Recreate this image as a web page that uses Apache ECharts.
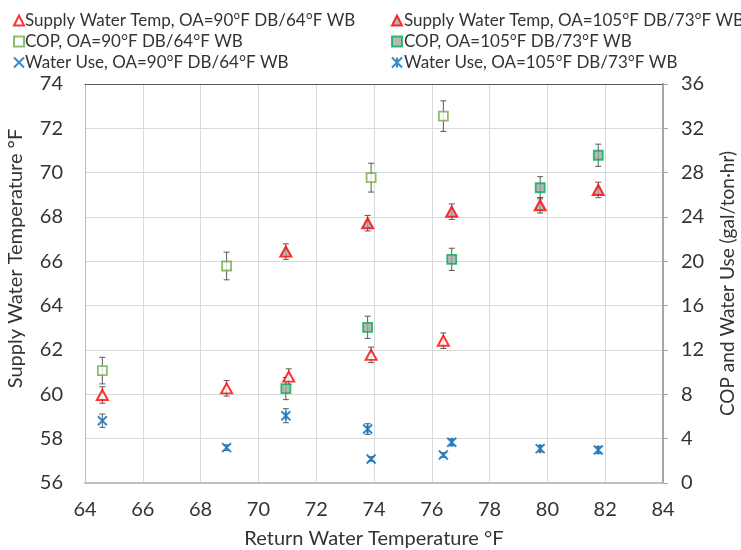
<!DOCTYPE html>
<html>
<head>
<meta charset="utf-8">
<script src="https://cdn.jsdelivr.net/npm/echarts@6/dist/echarts.min.js"></script>
<style>html,body{margin:0;padding:0;background:#fff}#c{width:741px;height:550px}</style>
</head>
<body>
<div id="c"></div>
<script>
// Return water temperature (°F), x values
const x90 = [64.6, 68.9, 71.05, 73.9, 76.4];
const x105 = [70.95, 73.78, 76.69, 79.75, 81.76];
// Supply water temperature (°F), left axis
const supply90 = [59.97, 60.27, 60.80, 61.78, 62.42];
const supply105 = [66.44, 67.72, 68.24, 68.53, 69.22];
const supplyErr90 = [0.37, 0.35, 0.35, 0.35, 0.35];
const supplyErr105 = [0.35, 0.35, 0.35, 0.35, 0.35];
// COP (right axis)
const cop90 = [10.14, 19.58, null, 27.55, 33.1];
const cop105 = [8.52, 14.05, 20.18, 26.64, 29.57];
const copErr90 = [1.2, 1.25, null, 1.3, 1.38];
const copErr105 = [1.0, 1.0, 1.0, 1.0, 1.0];
// Water use gal/ton·hr (right axis)
const water90 = [5.62, 3.19, null, 2.17, 2.53];
const water105 = [6.07, 4.87, 3.67, 3.10, 2.98];
const waterErr90 = [0.6, 0.25, null, 0.2, 0.2];
const waterErr105 = [0.63, 0.48, 0.3, 0.3, 0.3];

const names = {
  s90: 'Supply Water Temp, OA=90°F DB/64°F WB',
  s105: 'Supply Water Temp, OA=105°F DB/73°F WB',
  c90: 'COP, OA=90°F DB/64°F WB',
  c105: 'COP, OA=105°F DB/73°F WB',
  w90: 'Water Use, OA=90°F DB/64°F WB',
  w105: 'Water Use, OA=105°F DB/73°F WB'
};

const FONT = 'Lato';
const TXT = '#333333';

function pts(xs, ys) {
  const out = [];
  xs.forEach((x, i) => { if (ys[i] != null) out.push([x, ys[i]]); });
  return out;
}
function errPts(xs, ys, es) {
  const out = [];
  xs.forEach((x, i) => { if (ys[i] != null && es[i] != null) out.push([x, ys[i], es[i]]); });
  return out;
}
function errSeries(xs, ys, es, yIdx) {
  return {
    type: 'custom',
    yAxisIndex: yIdx,
    silent: true,
    z: 1,
    data: errPts(xs, ys, es),
    renderItem: function (params, api) {
      const x = api.value(0), y = api.value(1), e = api.value(2);
      const hi = api.coord([x, y + e]);
      const lo = api.coord([x, y - e]);
      const cw = 3;
      const st = { stroke: '#595959', lineWidth: 1 };
      return {
        type: 'group',
        children: [
          { type: 'line', shape: { x1: hi[0], y1: hi[1], x2: lo[0], y2: lo[1] }, style: st },
          { type: 'line', shape: { x1: hi[0] - cw, y1: hi[1], x2: hi[0] + cw, y2: hi[1] }, style: st },
          { type: 'line', shape: { x1: lo[0] - cw, y1: lo[1], x2: lo[0] + cw, y2: lo[1] }, style: st }
        ]
      };
    }
  };
}

const crossPath = 'path://M0,0L10,10M10,0L0,10';
const starPath = 'path://M0,0L10,10M10,0L0,10M5,0L5,10';

const chart = echarts.init(document.getElementById('c'));
chart.setOption({
  animation: false,
  textStyle: { fontFamily: FONT },
  grid: { left: 85, right: 78, top: 84, bottom: 67, containLabel: false, outerBoundsMode: 'none' },
  legend: [
    {
      orient: 'vertical', left: 8, top: 5, itemGap: 0,
      itemWidth: 10, itemHeight: 10,
      textStyle: { fontFamily: FONT, fontSize: 17, color: TXT, lineHeight: 21, padding: [0, 0, 0, -4] },
      data: [names.s90, names.c90, names.w90]
    },
    {
      orient: 'vertical', left: 386, top: 5, itemGap: 0,
      itemWidth: 10, itemHeight: 10,
      textStyle: { fontFamily: FONT, fontSize: 17, color: TXT, lineHeight: 21, padding: [0, 0, 0, -3] },
      data: [names.s105, names.c105, names.w105]
    }
  ],
  xAxis: [
    {
      type: 'value', min: 64, max: 84, interval: 2, position: 'bottom',
      name: 'Return Water Temperature °F', nameLocation: 'middle', nameGap: 46,
      nameTextStyle: { fontFamily: FONT, fontSize: 20, color: TXT },
      axisLine: { show: true, lineStyle: { color: '#bfbfbf', width: 2 } },
      axisTick: { show: false },
      axisLabel: { fontFamily: FONT, fontSize: 20, color: TXT, margin: 17 },
      splitLine: { show: true, lineStyle: { color: '#d9d9d9', width: 1 } }
    },
    {
      type: 'value', min: 64, max: 84, interval: 2, position: 'top',
      axisLine: { show: true, onZero: false, lineStyle: { color: '#595959', width: 1 } },
      axisTick: { show: false }, axisLabel: { show: false }, splitLine: { show: false }
    }
  ],
  yAxis: [
    {
      type: 'value', min: 56, max: 74, interval: 2, position: 'left',
      name: 'Supply Water Temperature °F', nameLocation: 'middle', nameGap: 59,
      nameTextStyle: { fontFamily: FONT, fontSize: 20, color: TXT, padding: [0, 0, 0, 50] },
      axisLine: { show: true, lineStyle: { color: '#bfbfbf', width: 1 } },
      axisTick: { show: false },
      axisLabel: { fontFamily: FONT, fontSize: 20, color: TXT, margin: 22 },
      splitLine: { show: true, lineStyle: { color: '#d9d9d9', width: 1 } }
    },
    {
      type: 'value', min: 0, max: 36, interval: 4, position: 'right',
      name: 'COP and Water Use (gal/ton·hr)', nameLocation: 'middle', nameGap: 55,
      nameRotate: 90,
      nameTextStyle: { fontFamily: FONT, fontSize: 19, color: TXT, padding: [0, 0, 0, 0] },
      axisLine: { show: true, lineStyle: { color: '#a6a6a6', width: 2 } },
      axisTick: { show: true, inside: false, length: 5, lineStyle: { color: '#a6a6a6' } },
      axisLabel: { fontFamily: FONT, fontSize: 20, color: TXT, margin: 18 },
      splitLine: { show: false }
    }
  ],
  series: [
    errSeries(x90, supply90, supplyErr90, 0),
    errSeries(x105, supply105, supplyErr105, 0),
    errSeries(x90, cop90, copErr90, 1),
    errSeries(x105, cop105, copErr105, 1),
    errSeries(x90, water90, waterErr90, 1),
    errSeries(x105, water105, waterErr105, 1),
    {
      name: names.s90, type: 'scatter', yAxisIndex: 0, z: 3,
      symbol: 'triangle', symbolSize: [11, 10],
      itemStyle: { color: '#ffffff', borderColor: '#ff0000', borderWidth: 2 },
      data: pts(x90, supply90)
    },
    {
      name: names.s105, type: 'scatter', yAxisIndex: 0, z: 3,
      symbol: 'triangle', symbolSize: [11, 10],
      itemStyle: { color: '#a5a5a5', borderColor: '#ff0000', borderWidth: 2 },
      data: pts(x105, supply105)
    },
    {
      name: names.c90, type: 'scatter', yAxisIndex: 1, z: 3,
      symbol: 'rect', symbolSize: 9,
      itemStyle: { color: '#ffffff', borderColor: '#70ad47', borderWidth: 1.8 },
      data: pts(x90, cop90)
    },
    {
      name: names.c105, type: 'scatter', yAxisIndex: 1, z: 3,
      symbol: 'rect', symbolSize: 9,
      itemStyle: { color: '#a5a5a5', borderColor: '#00b050', borderWidth: 1.8 },
      data: pts(x105, cop105)
    },
    {
      name: names.w90, type: 'scatter', yAxisIndex: 1, z: 3,
      symbol: crossPath, symbolSize: 9,
      itemStyle: { color: 'rgba(0,0,0,0)', borderColor: '#0070c0', borderWidth: 2 },
      data: pts(x90, water90)
    },
    {
      name: names.w105, type: 'scatter', yAxisIndex: 1, z: 3,
      symbol: starPath, symbolSize: 9,
      itemStyle: { color: 'rgba(0,0,0,0)', borderColor: '#0070c0', borderWidth: 2 },
      data: pts(x105, water105)
    }
  ]
});
</script>
</body>
</html>
